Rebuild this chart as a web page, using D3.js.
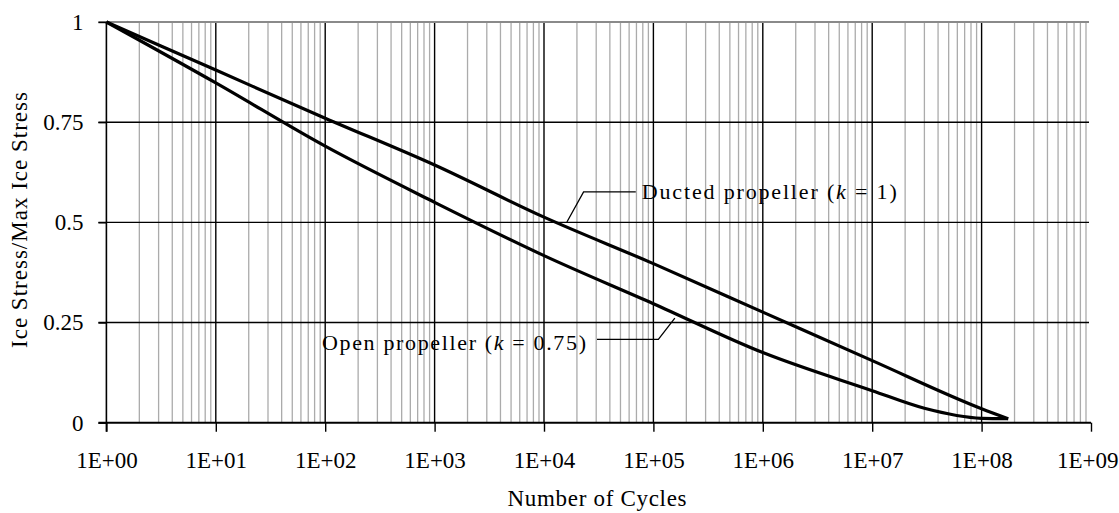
<!DOCTYPE html>
<html>
<head>
<meta charset="utf-8">
<script src="https://cdn.jsdelivr.net/npm/d3@7"></script>
<style>
  html, body { margin: 0; padding: 0; background: #fff; }
  svg { display: block; }
  text { font-family: "Liberation Serif", "Times New Roman", serif; fill: #000; }
</style>
</head>
<body>
<svg id="chart" width="1119" height="513"></svg>
<script>
// ---- data ----
const xTickValues = [1, 1e1, 1e2, 1e3, 1e4, 1e5, 1e6, 1e7, 1e8, 1e9];
const xTickLabels = ["1E+00", "1E+01", "1E+02", "1E+03", "1E+04", "1E+05", "1E+06", "1E+07", "1E+08", "1E+09"];
const yTickValues = [0, 0.25, 0.5, 0.75, 1];
const yTickLabels = ["0", "0.25", "0.5", "0.75", "1"];

const ductedCycles = [1, 1e1, 1e2, 1e3, 1e4, 1e5, 1e6, 1e7, 1e8, 1.75e8];
const ductedStress = [1, 0.88, 0.76, 0.643, 0.513, 0.397, 0.276, 0.155, 0.035, 0.01];

const openCycles = [1, 1e1, 1e2, 1e3, 1e4, 1e5, 1e6, 1e7, 3e7, 1e8, 1.75e8];
const openStress = [1, 0.848, 0.69, 0.55, 0.417, 0.297, 0.175, 0.08, 0.036, 0.011, 0.01];

// annotation leader lines (data units): [curve point, elbow, end]
const ductedLeaderX = [1.62e4, 2.3e4, 6.9e4];
const ductedLeaderY = [0.501, 0.576, 0.576];
const openLeaderX = [1.57e5, 1.11e5, 3.05e4];
const openLeaderY = [0.261, 0.208, 0.208];

const xTitle = "Number of Cycles";
const yTitle = "Ice Stress/Max Ice Stress";

// ---- chart ----
const svg = d3.select("#chart");
const x = d3.scaleLog().domain([1, 1e9]).range([106.4, 1091]);
const y = d3.scaleLinear().domain([0, 1]).range([422.7, 22]);

svg.append("rect").attr("width", 1119).attr("height", 513).attr("fill", "#fff");

// minor vertical gridlines
const minor = [];
for (let d = 1; d < 1e9; d *= 10) for (let m = 2; m <= 9; m++) minor.push(d * m);
svg.append("g").selectAll("line").data(minor).join("line")
  .attr("x1", d => x(d)).attr("x2", d => x(d))
  .attr("y1", y(1)).attr("y2", y(0))
  .attr("stroke", "#ababab").attr("stroke-width", 1.3);

// major vertical gridlines
svg.append("g").selectAll("line").data(xTickValues.slice(1, -1)).join("line")
  .attr("x1", d => x(d)).attr("x2", d => x(d))
  .attr("y1", y(1)).attr("y2", y(0))
  .attr("stroke", "#000").attr("stroke-width", 1.4);

// horizontal gridlines
svg.append("g").selectAll("line").data(yTickValues.slice(1, -1)).join("line")
  .attr("x1", x(1) - 8).attr("x2", x(1e9) - 2)
  .attr("y1", d => y(d)).attr("y2", d => y(d))
  .attr("stroke", "#000").attr("stroke-width", 1.4);
// top border line
svg.append("line")
  .attr("x1", x(1) - 8).attr("x2", x(1e9) - 2)
  .attr("y1", y(1)).attr("y2", y(1))
  .attr("stroke", "#8a8a8a").attr("stroke-width", 2);

// axes
const xAxis = d3.axisBottom(x).tickValues(xTickValues)
  .tickFormat((d, i) => xTickLabels[i]).tickSize(9).tickPadding(20).tickSizeOuter(0);
const gx = svg.append("g").attr("transform", `translate(0,${y(0)})`).call(xAxis);
gx.select(".domain").attr("stroke", "#000").attr("stroke-width", 2)
  .attr("d", `M${x(1) - 8},0H${x(1e9)}`);
gx.selectAll(".tick line").attr("stroke", "#000").attr("stroke-width", 1.4);
gx.selectAll(".tick text").attr("font-size", 23).attr("font-family", "Liberation Serif, serif")
  .attr("fill", "#000");
// keep the last label inside the picture
gx.selectAll(".tick text").filter(d => d === 1e9)
  .attr("text-anchor", "end").attr("x", 1118 - x(1e9));

const yAxis = d3.axisLeft(y).tickValues(yTickValues)
  .tickFormat((d, i) => yTickLabels[i]).tickSize(8).tickPadding(15).tickSizeOuter(0);
const gy = svg.append("g").attr("transform", `translate(${x(1)},0)`).call(yAxis);
gy.select(".domain").attr("stroke", "#000").attr("stroke-width", 1.6)
  .attr("d", `M0,${y(1)}V${y(0) + 9}`);
gy.selectAll(".tick line").attr("stroke", "#000").attr("stroke-width", 1.4);
gy.selectAll(".tick text").attr("font-size", 23).attr("font-family", "Liberation Serif, serif")
  .attr("fill", "#000");

// curves
const curve = d3.line().x(d => x(d[0])).y(d => y(d[1])).curve(d3.curveMonotoneX);
svg.append("path").datum(d3.zip(ductedCycles, ductedStress))
  .attr("d", curve).attr("fill", "none").attr("stroke", "#000")
  .attr("stroke-width", 3.2).attr("stroke-linejoin", "round");
svg.append("path").datum(d3.zip(openCycles, openStress))
  .attr("d", curve).attr("fill", "none").attr("stroke", "#000")
  .attr("stroke-width", 3.2).attr("stroke-linejoin", "round");

// leader lines
const line = d3.line().x(d => x(d[0])).y(d => y(d[1]));
svg.append("path").datum(d3.zip(ductedLeaderX, ductedLeaderY))
  .attr("d", line).attr("fill", "none").attr("stroke", "#000").attr("stroke-width", 1.3);
svg.append("path").datum(d3.zip(openLeaderX, openLeaderY))
  .attr("d", line).attr("fill", "none").attr("stroke", "#000").attr("stroke-width", 1.3);

// labels
const lbl1 = svg.append("text")
  .attr("x", x(ductedLeaderX[2]) + 6).attr("y", y(ductedLeaderY[2]) + 7.5)
  .attr("font-size", 22).attr("textLength", 255).attr("lengthAdjust", "spacing");
lbl1.append("tspan").text("Ducted propeller (");
lbl1.append("tspan").attr("font-style", "italic").text("k");
lbl1.append("tspan").text(" = 1)");

const lbl2 = svg.append("text")
  .attr("x", x(openLeaderX[2]) - 11).attr("y", y(openLeaderY[2]) + 11)
  .attr("text-anchor", "end")
  .attr("font-size", 22).attr("textLength", 264).attr("lengthAdjust", "spacing");
lbl2.append("tspan").text("Open propeller (");
lbl2.append("tspan").attr("font-style", "italic").text("k");
lbl2.append("tspan").text(" = 0.75)");

// axis titles
svg.append("text").attr("x", 597).attr("y", 506).attr("text-anchor", "middle")
  .attr("font-size", 23).attr("textLength", 179).attr("lengthAdjust", "spacing")
  .text(xTitle);
svg.append("text").attr("transform", "translate(27,220) rotate(-90)")
  .attr("text-anchor", "middle")
  .attr("font-size", 23).attr("textLength", 256).attr("lengthAdjust", "spacing")
  .text(yTitle);
</script>
</body>
</html>
